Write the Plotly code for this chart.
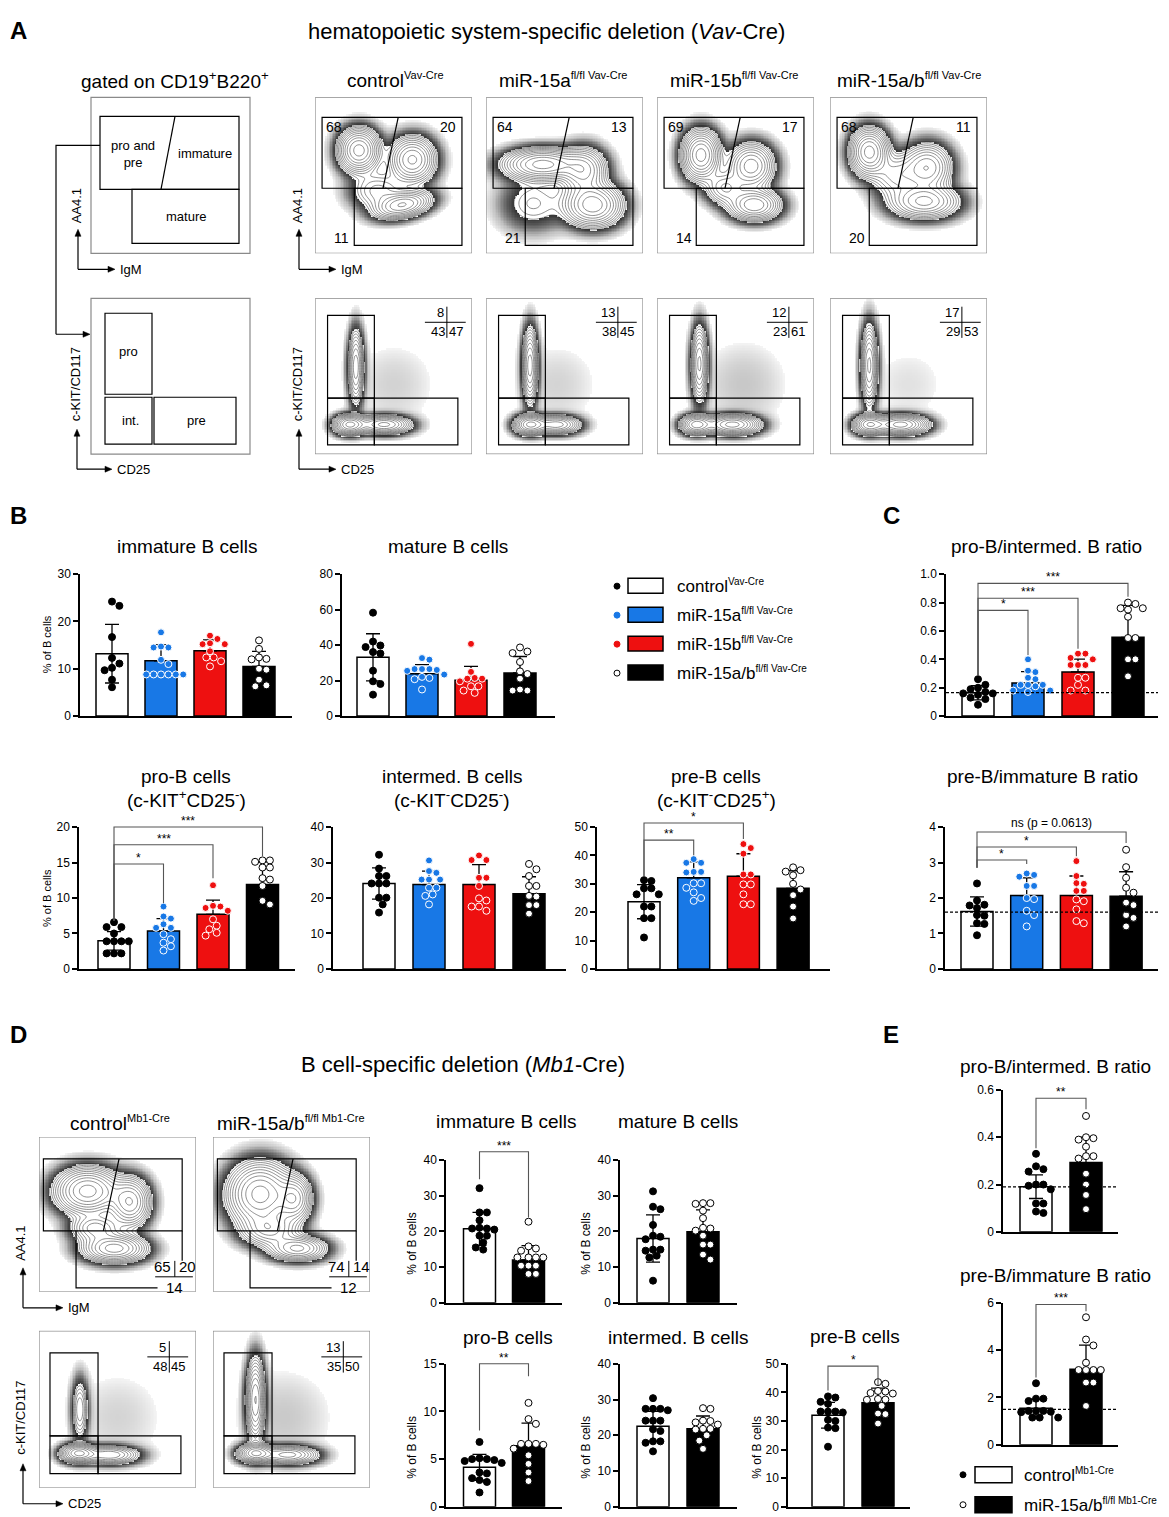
import numpy as np
import plotly.graph_objects as go

W, H = 1169, 1517
# the photographed page is shifted/squeezed a little; these undo it
OFF_X = 8
OFF_Y, SQ_Y = 13.6, 0.9912
FONT = "Liberation Sans, Arial, sans-serif"

BLUE = "#1878e6"
RED = "#ee1010"

# bar fill, dot fill, dot edge
STYLE = {
    "ctrl": ("white", "black", "black"),
    "15a": (BLUE, BLUE, "white"),
    "15b": (RED, RED, "white"),
    "15ab": ("black", "white", "black"),
}
vav_groups = ["ctrl", "15a", "15b", "15ab"]
mb1_groups = ["ctrl", "15ab"]

# ---------------- panel B / C (Vav-Cre) ----------------
imm_vav_mean = [13.2, 11.7, 13.8, 10.5]
imm_vav_sd = [6.2, 3.4, 2.3, 3.2]
imm_vav_pts = [
    [24.2, 23.3, 16.7, 12.3, 11.1, 10.2, 9.7, 7.7, 6.1],
    [17.7, 14.7, 14.5, 14.5, 11.9, 11.0, 8.8, 8.8, 8.8, 8.8, 8.8, 8.8],
    [17.0, 16.3, 15.4, 15.2, 15.2, 13.7, 12.4, 12.4, 11.6, 10.5],
    [16.0, 14.2, 12.4, 12.1, 12.0, 10.0, 9.8, 7.7, 6.5, 6.3],
]
mat_vav_mean = [33.1, 23.9, 20.2, 24.3]
mat_vav_sd = [13.3, 5.1, 7.8, 9.3]
mat_vav_pts = [
    [58.3, 42.0, 39.8, 38.9, 36.1, 35.3, 25.6, 19.6, 18.1, 12.1],
    [32.7, 31.8, 26.5, 26.5, 26.5, 26.0, 25.5, 23.4, 22.1, 21.5, 20.8, 15.0],
    [40.7, 24.9, 21.5, 21.1, 21.1, 19.6, 16.8, 16.8, 14.4, 13.1],
    [38.7, 36.4, 35.5, 30.5, 25.2, 23.7, 21.1, 15.0, 14.4, 14.4],
]
pi_vav_mean = [0.165, 0.234, 0.311, 0.555]
pi_vav_sd = [0.05, 0.08, 0.09, 0.225]
pi_vav_pts = [
    [0.26, 0.22, 0.20, 0.19, 0.17, 0.16, 0.16, 0.15, 0.13, 0.12, 0.08],
    [0.40, 0.32, 0.31, 0.27, 0.26, 0.22, 0.22, 0.22, 0.21, 0.18, 0.18, 0.17],
    [0.44, 0.44, 0.41, 0.40, 0.36, 0.36, 0.36, 0.27, 0.27, 0.22, 0.18, 0.18],
    [0.80, 0.79, 0.76, 0.76, 0.75, 0.70, 0.55, 0.55, 0.40, 0.40, 0.28],
]
pro_vav_mean = [3.97, 5.35, 7.7, 11.9]
pro_vav_sd = [1.3, 1.75, 2.0, 3.2]
pro_vav_pts = [
    [6.6, 5.9, 5.9, 5.0, 3.9, 3.9, 3.9, 3.9, 2.2, 2.2, 2.2],
    [8.8, 7.4, 7.1, 6.3, 5.8, 5.8, 4.9, 4.2, 3.7, 3.2, 2.6],
    [11.8, 8.9, 8.8, 8.6, 8.2, 7.0, 6.1, 5.6, 5.1, 4.7],
    [15.3, 15.3, 15.1, 14.3, 14.3, 12.8, 12.6, 11.7, 9.6, 9.1],
]
int_vav_mean = [24.1, 23.8, 23.8, 21.2]
int_vav_sd = [4.4, 3.8, 5.6, 4.8]
int_vav_pts = [
    [32.2, 28.3, 26.2, 26.2, 24.1, 24.1, 24.1, 20.1, 20.1, 18.2, 15.9],
    [30.6, 27.6, 27.1, 25.2, 25.2, 25.2, 22.9, 22.9, 21.0, 20.6, 18.2],
    [32.0, 30.7, 30.7, 25.7, 25.7, 23.4, 19.9, 19.3, 17.6, 17.6, 16.4],
    [29.6, 28.1, 26.2, 23.4, 23.4, 20.6, 20.4, 18.0, 18.0, 15.6],
]
pre_vav_mean = [23.7, 32.1, 32.7, 28.4]
pre_vav_sd = [6.0, 5.6, 7.9, 6.2]
pre_vav_pts = [
    [31.3, 31.0, 28.4, 28.4, 26.3, 26.3, 22.0, 22.0, 17.9, 17.9, 11.1],
    [38.7, 37.4, 37.4, 34.2, 34.2, 34.0, 30.2, 30.2, 28.6, 27.0, 25.0, 24.0],
    [44.0, 42.6, 40.6, 33.3, 33.3, 29.8, 29.8, 26.3, 22.8, 22.8],
    [35.8, 34.8, 34.3, 33.0, 30.0, 28.0, 26.0, 22.0, 17.8],
]
pim_vav_mean = [1.62, 2.07, 2.07, 2.05]
pim_vav_sd = [0.41, 0.5, 0.55, 0.69]
pim_vav_pts = [
    [2.41, 1.93, 1.81, 1.79, 1.72, 1.52, 1.50, 1.29, 1.27, 0.95],
    [2.69, 2.65, 2.60, 2.34, 2.34, 2.00, 1.97, 1.64, 1.52, 1.20],
    [3.04, 2.62, 2.42, 2.40, 2.20, 2.20, 1.96, 1.91, 1.68, 1.35, 1.29],
    [3.36, 2.87, 2.57, 2.29, 2.15, 1.87, 1.80, 1.52, 1.44, 1.20],
]

# ---------------- panel D / E (Mb1-Cre) ----------------
imm_mb1_mean = [20.7, 12.0]
imm_mb1_sd = [4.6, 4.0]
imm_mb1_pts = [
    [32.1, 25.3, 25.3, 23.1, 21.0, 20.8, 20.8, 20.5, 18.8, 18.8, 16.9, 15.5, 14.9],
    [22.7, 15.8, 15.2, 14.6, 12.7, 12.7, 12.7, 12.7, 10.4, 10.4, 10.4, 8.1, 8.1],
]
mat_mb1_mean = [18.0, 19.9]
mat_mb1_sd = [6.6, 6.1]
mat_mb1_pts = [
    [31.2, 26.9, 26.2, 21.8, 18.8, 18.5, 17.8, 14.9, 14.9, 14.6, 13.2, 12.7, 6.2],
    [27.9, 27.9, 27.7, 25.8, 23.7, 21.0, 20.8, 20.2, 18.8, 16.3, 16.3, 13.5, 12.1],
]
pro_mb1_mean = [4.14, 6.4]
pro_mb1_sd = [1.36, 2.37]
pro_mb1_pts = [
    [6.8, 5.1, 5.0, 5.0, 4.9, 4.8, 4.6, 3.6, 3.5, 3.0, 2.8, 2.6, 1.5],
    [10.9, 9.2, 8.7, 6.6, 6.6, 6.6, 6.5, 6.1, 5.4, 4.5, 3.6, 2.7],
]
int_mb1_mean = [22.5, 21.8]
int_mb1_sd = [4.2, 3.6]
int_mb1_pts = [
    [30.4, 27.4, 27.4, 27.4, 27.0, 24.1, 24.1, 24.1, 21.7, 21.2, 18.3, 18.3, 17.9, 15.5],
    [27.6, 27.4, 24.1, 24.0, 23.6, 23.0, 21.8, 21.8, 21.6, 20.0, 18.5, 16.2],
]
pre_mb1_mean = [32.0, 36.4]
pre_mb1_sd = [4.5, 5.1]
pre_mb1_pts = [
    [38.6, 38.2, 36.7, 36.0, 33.3, 33.3, 33.3, 33.0, 30.4, 30.0, 27.7, 27.5, 21.0],
    [43.6, 43.0, 40.5, 40.3, 39.8, 39.6, 37.7, 37.5, 37.4, 35.3, 32.6, 32.4, 29.1],
]
pi_mb1_mean = [0.191, 0.293]
pi_mb1_sd = [0.05, 0.107]
pi_mb1_pts = [
    [0.33, 0.277, 0.265, 0.255, 0.20, 0.20, 0.195, 0.18, 0.12, 0.12, 0.086, 0.08],
    [0.49, 0.40, 0.396, 0.39, 0.36, 0.32, 0.32, 0.31, 0.246, 0.20, 0.156, 0.096],
]
pim_mb1_mean = [1.545, 3.19]
pim_mb1_sd = [0.38, 1.02]
pim_mb1_pts = [
    [2.6, 1.95, 1.95, 1.85, 1.43, 1.43, 1.43, 1.40, 1.38, 1.15, 1.15, 1.15],
    [5.39, 4.45, 4.2, 3.47, 3.16, 3.16, 3.16, 3.16, 2.63, 2.63, 1.64],
]

# ---------------- flow plots ----------------
vav_names = ["control", "miR-15a", "miR-15b", "miR-15a/b"]
vav_sups = ["Vav-Cre", "fl/fl Vav-Cre", "fl/fl Vav-Cre", "fl/fl Vav-Cre"]
mb1_names = ["control", "miR-15a/b"]
mb1_sups = ["Mb1-Cre", "fl/fl Mb1-Cre"]
vav_igm_pct = [(68, 20, 11), (64, 13, 21), (69, 17, 14), (68, 11, 20)]
vav_kit_pct = [(8, 43, 47), (13, 38, 45), (12, 23, 61), (17, 29, 53)]
mb1_igm_pct = [(65, 20, 14), (74, 14, 12)]
mb1_kit_pct = [(5, 48, 45), (13, 35, 50)]

# cell clouds seen in each plot: centre u, v, spread u, v, weight, tilt (deg)
vav_igm_blobs = [
    [(0.28, 0.66, 0.07, 0.075, 1.0, 0), (0.62, 0.60, 0.08, 0.08, 0.75, 0),
     (0.56, 0.31, 0.10, 0.045, 0.7, 12), (0.40, 0.40, 0.10, 0.07, 0.25, 0)],
    [(0.36, 0.57, 0.13, 0.055, 1.0, 0), (0.62, 0.53, 0.08, 0.08, 0.6, 0),
     (0.68, 0.31, 0.10, 0.075, 0.85, 0), (0.30, 0.32, 0.12, 0.10, 0.15, 0)],
    [(0.28, 0.63, 0.065, 0.085, 1.0, 0), (0.60, 0.56, 0.08, 0.08, 0.65, 0),
     (0.62, 0.31, 0.09, 0.055, 0.7, 0), (0.43, 0.42, 0.07, 0.06, 0.35, 0)],
    [(0.25, 0.65, 0.065, 0.08, 1.0, 0), (0.62, 0.55, 0.085, 0.085, 0.55, 0),
     (0.60, 0.33, 0.12, 0.06, 0.6, 0), (0.42, 0.50, 0.09, 0.08, 0.3, 0)],
]
vav_kit_blobs = [
    [(0.26, 0.56, 0.028, 0.13, 0.55, 0), (0.22, 0.19, 0.055, 0.035, 1.0, 0),
     (0.44, 0.19, 0.09, 0.033, 0.8, 0), (0.50, 0.45, 0.18, 0.18, 0.012, 0)],
    [(0.28, 0.57, 0.028, 0.13, 0.7, 0), (0.28, 0.19, 0.055, 0.035, 1.0, 0),
     (0.45, 0.19, 0.08, 0.033, 0.7, 0), (0.45, 0.45, 0.18, 0.18, 0.012, 0)],
    [(0.27, 0.58, 0.03, 0.13, 0.6, 0), (0.25, 0.19, 0.055, 0.035, 0.8, 0),
     (0.48, 0.19, 0.09, 0.035, 1.0, 0), (0.55, 0.45, 0.18, 0.18, 0.015, 0)],
    [(0.25, 0.57, 0.03, 0.14, 0.6, 0), (0.25, 0.19, 0.055, 0.035, 0.85, 0),
     (0.45, 0.19, 0.09, 0.035, 1.0, 0), (0.50, 0.45, 0.18, 0.18, 0.008, 0)],
]
mb1_igm_blobs = [
    [(0.31, 0.65, 0.11, 0.08, 1.0, 0), (0.58, 0.58, 0.07, 0.085, 0.7, 0),
     (0.48, 0.28, 0.11, 0.05, 0.8, 0), (0.36, 0.41, 0.09, 0.05, 0.4, 0)],
    [(0.30, 0.63, 0.11, 0.11, 1.0, 0), (0.52, 0.60, 0.06, 0.08, 0.6, 0),
     (0.54, 0.28, 0.10, 0.045, 0.6, 0), (0.36, 0.40, 0.10, 0.06, 0.45, 0)],
]
mb1_kit_blobs = [
    [(0.26, 0.50, 0.03, 0.11, 0.3, 0), (0.25, 0.22, 0.06, 0.033, 1.0, 0),
     (0.45, 0.21, 0.10, 0.033, 0.6, 0), (0.50, 0.45, 0.2, 0.2, 0.012, 0)],
    [(0.27, 0.56, 0.033, 0.14, 0.8, 0), (0.27, 0.22, 0.06, 0.033, 1.0, 0),
     (0.48, 0.21, 0.10, 0.033, 0.7, 0), (0.45, 0.45, 0.2, 0.2, 0.016, 0)],
]

fig = go.Figure()
layout = {}
shapes = []
annots = []
n_axes = [0]


def X(x):
    return (x - OFF_X) / W


def Y(y):
    return 1 - (y - OFF_Y) / SQ_Y / H


def sup(s, size):
    return f"<sup><span style='font-size:{size}px'>{s}</span></sup>"


def ann(s, x, y, size=13, xa="center", ya="middle", angle=0, xref="paper", yref="paper", **kw):
    if xref == "paper":
        x = X(x)
    if yref == "paper":
        y = Y(y)
    annots.append(dict(text=s, x=x, y=y, xref=xref, yref=yref, showarrow=False,
                       xanchor=xa, yanchor=ya, textangle=angle,
                       font=dict(size=size, color="black", family=FONT), **kw))


def path_px(pts, color="black", width=1.2, fill=None, close=False):
    p = "M " + " L ".join(f"{X(x):.5f},{Y(y):.5f}" for x, y in pts) + (" Z" if close else "")
    shapes.append(dict(type="path", xref="paper", yref="paper", path=p,
                       line=dict(color=color, width=width), fillcolor=fill or "rgba(0,0,0,0)"))


def rect_px(x0, y0, x1, y1, color="black", width=1.2, fill="rgba(0,0,0,0)"):
    shapes.append(dict(type="rect", xref="paper", yref="paper", x0=X(x0), y0=Y(y1),
                       x1=X(x1), y1=Y(y0), line=dict(color=color, width=width), fillcolor=fill))


def dot_px(x, y, r, fill, edge):
    shapes.append(dict(type="circle", xref="paper", yref="paper", x0=X(x - r), x1=X(x + r),
                       y0=Y(y + r), y1=Y(y - r), fillcolor=fill, line=dict(color=edge, width=1)))


def arrow_up(x, y0, y1):
    path_px([(x, y0), (x, y1 + 2)])
    path_px([(x - 3, y1 + 7), (x, y1), (x + 3, y1 + 7)], width=0.5, fill="black", close=True)


def arrow_right(y, x0, x1):
    path_px([(x0, y), (x1 - 2, y)])
    path_px([(x1 - 7, y - 3), (x1, y), (x1 - 7, y + 3)], width=0.5, fill="black", close=True)


def axis_arrows(x, y, up, right, ylab, xlab, ylab_y):
    arrow_up(x, y, y - up)
    arrow_right(y, x, x + right)
    ann(ylab, x - 2, ylab_y, 13, angle=-90)
    ann(xlab, x + right + 3, y, 13, xa="left")


def new_axes(xa, xb, yt, yb, xaxis, yaxis):
    n_axes[0] += 1
    s = "" if n_axes[0] == 1 else str(n_axes[0])
    xaxis.update(domain=[X(xa), X(xb)], anchor="y" + s)
    yaxis.update(domain=[Y(yb), Y(yt)], anchor="x" + s)
    layout["xaxis" + s] = xaxis
    layout["yaxis" + s] = yaxis
    return "x" + s, "y" + s


def swarm(vals, ppy, ppx, d=7.4):
    placed = []
    offs = [0.0] * len(vals)
    cands = [0.0]
    for j in range(1, 14):
        cands += [j * d / 2, -j * d / 2]
    for i in sorted(range(len(vals)), key=lambda k: -vals[k]):
        y = vals[i] * ppy
        for c in cands:
            if all((c - px) ** 2 + (y - py) ** 2 >= (0.95 * d) ** 2 for px, py in placed):
                break
        placed.append((c, y))
        offs[i] = c / ppx
    return offs


def bar_chart(box, c0, step, ymax, ticks, ticktext, groups, means, sds, pts, brackets=(), ref=None):
    xa, xb, yt, yb = box
    xr, yr = new_axes(
        xa, xb, yt, yb,
        dict(range=[(xa - c0) / step, (xb - c0) / step], showline=True, linecolor="black", linewidth=1.5,
             showticklabels=False, tickvals=[], ticks="", showgrid=False, zeroline=False, fixedrange=True),
        dict(range=[0, ymax], showline=True, linecolor="black", linewidth=1.5, ticks="outside",
             ticklen=5, tickwidth=1.5, tickcolor="black", tickvals=ticks, ticktext=ticktext,
             tickfont=dict(size=12, family=FONT, color="black"), showgrid=False, zeroline=False,
             fixedrange=True))
    # the lower whisker only shows through the white control bar
    sd_down = [s if g == "ctrl" else 0 for s, g in zip(sds, groups)]
    fig.add_trace(go.Bar(
        x=list(range(len(groups))), y=means, width=32 / step,
        marker=dict(color=[STYLE[g][0] for g in groups], line=dict(color="black", width=1.5)),
        error_y=dict(type="data", symmetric=False, array=sds, arrayminus=sd_down,
                     color="black", thickness=1.3, width=7),
        xaxis=xr, yaxis=yr, hoverinfo="skip"))
    ppy = (yb - yt) / ymax
    for i, g in enumerate(groups):
        offs = swarm(pts[i], ppy, step)
        fig.add_trace(go.Scatter(
            x=[i + o for o in offs], y=pts[i], mode="markers", cliponaxis=False,
            marker=dict(size=7, color=STYLE[g][1], line=dict(color=STYLE[g][2], width=1)),
            xaxis=xr, yaxis=yr, hoverinfo="skip"))
    if ref is not None:
        shapes.append(dict(type="line", xref=xr + " domain", yref=yr, x0=0, x1=1, y0=ref, y1=ref,
                           line=dict(color="black", width=1.3, dash="3px,2px")))
    gx = lambda g: c0 + g * step
    vy = lambda v: yb - v * ppy
    for ga, gb, ytop, la, lb, lab in brackets:
        path_px([(gx(ga), vy(la)), (gx(ga), vy(ytop)), (gx(gb), vy(ytop)), (gx(gb), vy(lb))],
                color="#555555", width=1.1)
        ann(lab, (gx(ga) + gx(gb)) / 2, vy(ytop) + (3 if "*" in lab else 0), 12, ya="bottom")


def flow(x0, y0, blobs, w=157, h=156):
    xr, yr = new_axes(x0, x0 + w, y0, y0 + h,
                      dict(range=[0, 1], visible=False, tickvals=[], fixedrange=True),
                      dict(range=[0, 1], visible=False, tickvals=[], fixedrange=True))
    g = np.linspace(0, 1, 100)
    U, V = np.meshgrid(g, g)
    dens = np.zeros_like(U)
    for cx, cy, sx, sy, wt, ang in blobs:
        a = np.deg2rad(ang)
        du, dv = U - cx, V - cy
        r1 = du * np.cos(a) + dv * np.sin(a)
        r2 = -du * np.sin(a) + dv * np.cos(a)
        dens += wt * np.exp(-0.5 * ((r1 / sx) ** 2 + (r2 / sy) ** 2))
    z = np.log10(dens / dens.max() + 1e-9)
    halo = np.where((z > -2.3) & (z <= -1.05), z, np.nan)
    fig.add_trace(go.Heatmap(x=g, y=g, z=halo, zmin=-2.3, zmax=-1.05, showscale=False,
                             colorscale=[[0, "rgba(0,0,0,0.04)"], [0.45, "rgba(0,0,0,0.25)"],
                                         [1, "rgba(0,0,0,0.78)"]],
                             hoverinfo="skip", xaxis=xr, yaxis=yr))
    fig.add_trace(go.Contour(x=g, y=g, z=z, xaxis=xr, yaxis=yr, showscale=False, hoverinfo="skip",
                             contours=dict(coloring="none", start=-1.05, end=-0.04, size=0.1),
                             line=dict(color="#333333", width=0.55)))
    shapes.append(dict(type="rect", xref=xr, yref=yr, x0=0, x1=1, y0=0, y1=1,
                       line=dict(color="#8a8a8a", width=1.2)))
    return xr, yr


def lshape(xr, yr, kind, u0, v0, u1, v1, width=1.2):
    shapes.append(dict(type=kind, xref=xr, yref=yr, x0=u0, y0=v0, x1=u1, y1=v1,
                       line=dict(color="black", width=width)))


def gates_igm(xr, yr, pct):
    lshape(xr, yr, "rect", 0.045, 0.417, 0.936, 0.872)
    lshape(xr, yr, "line", 0.53, 0.872, 0.433, 0.417)
    lshape(xr, yr, "rect", 0.25, 0.051, 0.936, 0.417)
    ann(str(pct[0]), 0.12, 0.81, 14, xref=xr, yref=yr)
    ann(str(pct[1]), 0.85, 0.81, 14, xref=xr, yref=yr)
    ann(str(pct[2]), 0.17, 0.10, 14, xref=xr, yref=yr)


def gates_kit(xr, yr, pct, ul=0.08, um=0.378, ur=0.91, vt=0.89, vm=0.36, vb=0.06, cu=0.84, cv=0.846):
    lshape(xr, yr, "rect", ul, vm, um, vt)
    lshape(xr, yr, "rect", ul, vb, um, vm)
    lshape(xr, yr, "rect", um, vb, ur, vm)
    lshape(xr, yr, "line", cu, cv - 0.1, cu, cv + 0.1, 1)
    lshape(xr, yr, "line", cu - 0.14, cv, cu + 0.12, cv, 1)
    ann(str(pct[0]), cu, cv, 13, xa="right", ya="bottom", xref=xr, yref=yr, xshift=-1)
    ann(str(pct[1]), cu, cv, 13, xa="right", ya="top", xref=xr, yref=yr)
    ann(str(pct[2]), cu, cv, 13, xa="left", ya="top", xref=xr, yref=yr)


def gates_mb1(xr, yr, pct):
    lshape(xr, yr, "rect", 0.028, 0.394, 0.912, 0.858)
    lshape(xr, yr, "line", 0.51, 0.858, 0.41, 0.394)
    shapes.append(dict(type="path", xref=xr, yref=yr, path="M 0.236,0.394 L 0.236,0.026 L 0.755,0.026",
                       line=dict(color="black", width=1.2)))
    lshape(xr, yr, "line", 0.912, 0.394, 0.912, 0.2)
    lshape(xr, yr, "line", 0.865, 0.2, 0.865, 0.097, 1)
    lshape(xr, yr, "line", 0.74, 0.097, 0.98, 0.097, 1)
    ann(str(pct[0]), 0.865, 0.097, 15, xa="right", ya="bottom", xref=xr, yref=yr, xshift=-2)
    ann(str(pct[1]), 0.865, 0.097, 15, xa="left", ya="bottom", xref=xr, yref=yr, xshift=2)
    ann(str(pct[2]), 0.865, 0.097, 15, ya="top", xref=xr, yref=yr)


# ================= panel A =================
ann("<b>A</b>", OFF_X, OFF_Y + 0.5, 24, xa="left", ya="top")
ann("hematopoietic system-specific deletion (<i>Vav</i>-Cre)", 546, 30, 22)
ann("gated on CD19<sup>+</sup>B220<sup>+</sup>", 175, 79, 19)

rect_px(91, 96, 250, 252, color="#8a8a8a")
rect_px(100, 115, 239, 188)
path_px([(175, 115), (161, 188)])
rect_px(132, 188, 239, 242)
ann("pro and<br>pre", 133, 153, 13)
ann("immature", 205, 152, 13)
ann("mature", 186, 215, 13)

rect_px(91, 297, 250, 453, color="#8a8a8a")
rect_px(105, 312, 152, 393)
rect_px(105, 396, 152, 443)
rect_px(154, 396, 236, 443)
ann("pro", 128, 350, 13)
ann("int.", 130, 419, 13)
ann("pre", 196, 419, 13)

path_px([(100, 144), (56, 144), (56, 333)])
arrow_right(333, 56, 90)

axis_arrows(78, 268, 40, 37, "AA4.1", "IgM", 205)
axis_arrows(299, 268, 40, 37, "AA4.1", "IgM", 205)
axis_arrows(77, 468, 40, 35, "c-KIT/CD117", "CD25", 383)
axis_arrows(299, 468, 40, 37, "c-KIT/CD117", "CD25", 383)

vav_x0 = [315, 486, 657, 830]
vav_tx = [395, 563, 734, 909]
for i in range(4):
    ann(vav_names[i] + sup(vav_sups[i], 11), vav_tx[i], 79, 19)
    xr, yr = flow(vav_x0[i], 96, vav_igm_blobs[i])
    gates_igm(xr, yr, vav_igm_pct[i])
    xr, yr = flow(vav_x0[i], 297, vav_kit_blobs[i])
    gates_kit(xr, yr, vav_kit_pct[i])

# ================= panel B =================
ann("<b>B</b>", OFF_X, 514, 24, xa="left")
ann("immature B cells", 187, 545, 19)
ann("mature B cells", 448, 545, 19)
ann("% of B cells", 47, 643, 11, angle=-90)
bar_chart((80, 292, 573, 715), 112, 49, 30, [0, 10, 20, 30], ["0", "10", "20", "30"],
          vav_groups, imm_vav_mean, imm_vav_sd, imm_vav_pts)
bar_chart((342, 555, 573, 715), 373, 49, 80, [0, 20, 40, 60, 80], ["0", "20", "40", "60", "80"],
          vav_groups, mat_vav_mean, mat_vav_sd, mat_vav_pts)

leg_y = [585, 614, 643, 672]
for y, g, nm, sp in zip(leg_y, vav_groups, vav_names, vav_sups):
    dot_px(617, y, 3, STYLE[g][1], "black" if g in ("ctrl", "15ab") else STYLE[g][1])
    rect_px(628, y - 8, 663, y + 7, width=1.5, fill=STYLE[g][0])
    ann(nm + sup(sp, 10), 675, y, 17, xa="left")

ann("pro-B cells", 186, 775, 19)
ann("(c-KIT<sup>+</sup>CD25<sup>-</sup>)", 186, 798, 19)
ann("intermed. B cells", 452, 775, 19)
ann("(c-KIT<sup>-</sup>CD25<sup>-</sup>)", 452, 798, 19)
ann("pre-B cells", 716, 775, 19)
ann("(c-KIT<sup>-</sup>CD25<sup>+</sup>)", 716, 798, 19)
ann("% of B cells", 47, 897, 11, angle=-90)
bar_chart((79, 295, 826, 968), 114, 49.5, 20, [0, 5, 10, 15, 20], ["0", "5", "10", "15", "20"],
          vav_groups, pro_vav_mean, pro_vav_sd, pro_vav_pts,
          brackets=[(0, 3, 20.0, 6.8, 15.9, "***"), (0, 2, 17.5, 6.8, 12.8, "***"),
                    (0, 1, 14.8, 6.8, 9.3, "*")])
bar_chart((333, 566, 826, 968), 379, 50, 40, [0, 10, 20, 30, 40], ["0", "10", "20", "30", "40"],
          vav_groups, int_vav_mean, int_vav_sd, int_vav_pts)
bar_chart((597, 830, 826, 968), 644, 49.7, 50, [0, 10, 20, 30, 40, 50],
          ["0", "10", "20", "30", "40", "50"],
          vav_groups, pre_vav_mean, pre_vav_sd, pre_vav_pts,
          brackets=[(0, 2, 51.4, 32.7, 45.8, "*"), (0, 1, 45.4, 32.7, 40.1, "**")])

# ================= panel C =================
ann("<b>C</b>", 881, 514, 24, xa="left")
ann("pro-B/intermed. B ratio", 1046, 545, 19)
bar_chart((946, 1158, 573, 715), 978, 50, 1.0, [0, 0.2, 0.4, 0.6, 0.8, 1.0],
          ["0", "0.2", "0.4", "0.6", "0.8", "1.0"],
          vav_groups, pi_vav_mean, pi_vav_sd, pi_vav_pts,
          brackets=[(0, 3, 0.935, 0.29, 0.84, "***"), (0, 2, 0.83, 0.29, 0.474, "***"),
                    (0, 1, 0.745, 0.29, 0.43, "*")], ref=0.165)
ann("pre-B/immature B ratio", 1042, 775, 19)
bar_chart((945, 1158, 826, 968), 977, 49.7, 4, [0, 1, 2, 3, 4], ["0", "1", "2", "3", "4"],
          vav_groups, pim_vav_mean, pim_vav_sd, pim_vav_pts,
          brackets=[(0, 3, 3.86, 2.85, 3.55, "ns (p = 0.0613)"), (0, 2, 3.44, 2.85, 3.18, "*"),
                    (0, 1, 3.07, 2.85, 2.96, "*")], ref=1.6)

# ================= panel D =================
ann("<b>D</b>", OFF_X, 1034, 24, xa="left")
ann("B cell-specific deletion (<i>Mb1</i>-Cre)", 463, 1064, 22)
mb1_x0 = [39, 213]
mb1_tx = [120, 291]
for i in range(2):
    ann(mb1_names[i] + sup(mb1_sups[i], 11), mb1_tx[i], 1122, 19)
    xr, yr = flow(mb1_x0[i], 1136, mb1_igm_blobs[i], h=155)
    gates_mb1(xr, yr, mb1_igm_pct[i])
    xr, yr = flow(mb1_x0[i], 1330, mb1_kit_blobs[i], h=157)
    gates_kit(xr, yr, mb1_kit_pct[i], ul=0.07, um=0.376, ur=0.904, vt=0.86, vm=0.33, vb=0.09,
              cu=0.83, cv=0.834)
axis_arrows(23, 1307, 40, 40, "AA4.1", "IgM", 1243)
axis_arrows(23, 1503, 40, 40, "c-KIT/CD117", "CD25", 1417)

ann("immature B cells", 506, 1121, 19)
ann("mature B cells", 678, 1121, 19)
ann("pro-B cells", 508, 1337, 19)
ann("intermed. B cells", 678, 1337, 19)
ann("pre-B cells", 855, 1336, 19)
for x, y in [(412, 1243), (586, 1243), (412, 1447), (586, 1447), (757, 1447)]:
    ann("% of B cells", x, y, 12, angle=-90)
bar_chart((446, 562, 1159, 1302), 479.5, 49, 40, [0, 10, 20, 30, 40], ["0", "10", "20", "30", "40"],
          mb1_groups, imm_mb1_mean, imm_mb1_sd, imm_mb1_pts,
          brackets=[(0, 1, 42.3, 34.6, 23.9, "***")])
bar_chart((620, 737, 1159, 1302), 653, 50, 40, [0, 10, 20, 30, 40], ["0", "10", "20", "30", "40"],
          mb1_groups, mat_mb1_mean, mat_mb1_sd, mat_mb1_pts)
bar_chart((446, 562, 1363, 1506), 479.5, 49, 15, [0, 5, 10, 15], ["0", "5", "10", "15"],
          mb1_groups, pro_mb1_mean, pro_mb1_sd, pro_mb1_pts,
          brackets=[(0, 1, 15.0, 8.0, 13.7, "**")])
bar_chart((620, 737, 1363, 1506), 653, 50, 40, [0, 10, 20, 30, 40], ["0", "10", "20", "30", "40"],
          mb1_groups, int_mb1_mean, int_mb1_sd, int_mb1_pts)
bar_chart((788, 910, 1363, 1506), 828, 50, 50, [0, 10, 20, 30, 40, 50],
          ["0", "10", "20", "30", "40", "50"],
          mb1_groups, pre_mb1_mean, pre_mb1_sd, pre_mb1_pts,
          brackets=[(0, 1, 49.2, 40.7, 42.4, "*")])

# ================= panel E =================
ann("<b>E</b>", 881, 1034, 24, xa="left")
ann("pro-B/intermed. B ratio", 1055, 1066, 19)
bar_chart((1003, 1118, 1089, 1231), 1036, 50, 0.6, [0, 0.2, 0.4, 0.6], ["0", "0.2", "0.4", "0.6"],
          mb1_groups, pi_mb1_mean, pi_mb1_sd, pi_mb1_pts,
          brackets=[(0, 1, 0.565, 0.354, 0.518, "**")], ref=0.19)
ann("pre-B/immature B ratio", 1055, 1275, 19)
bar_chart((1003, 1118, 1302, 1444), 1036, 50, 6, [0, 2, 4, 6], ["0", "2", "4", "6"],
          mb1_groups, pim_mb1_mean, pim_mb1_sd, pim_mb1_pts,
          brackets=[(0, 1, 5.93, 2.84, 5.65, "***")], ref=1.5)

for y, g, nm, sp in zip([1474, 1504], mb1_groups, mb1_names, mb1_sups):
    dot_px(963, y, 3, STYLE[g][1], "black")
    rect_px(975, y - 8, 1012, y + 8, width=1.5, fill=STYLE[g][0])
    ann(nm + sup(sp, 10), 1022, y, 17, xa="left")

layout.update(width=W, height=H, margin=dict(l=0, r=0, t=0, b=0), paper_bgcolor="white",
              plot_bgcolor="rgba(0,0,0,0)", showlegend=False, shapes=shapes, annotations=annots,
              font=dict(family=FONT, color="black"))
fig.update_layout(**layout)
fig.write_html("out.html")
